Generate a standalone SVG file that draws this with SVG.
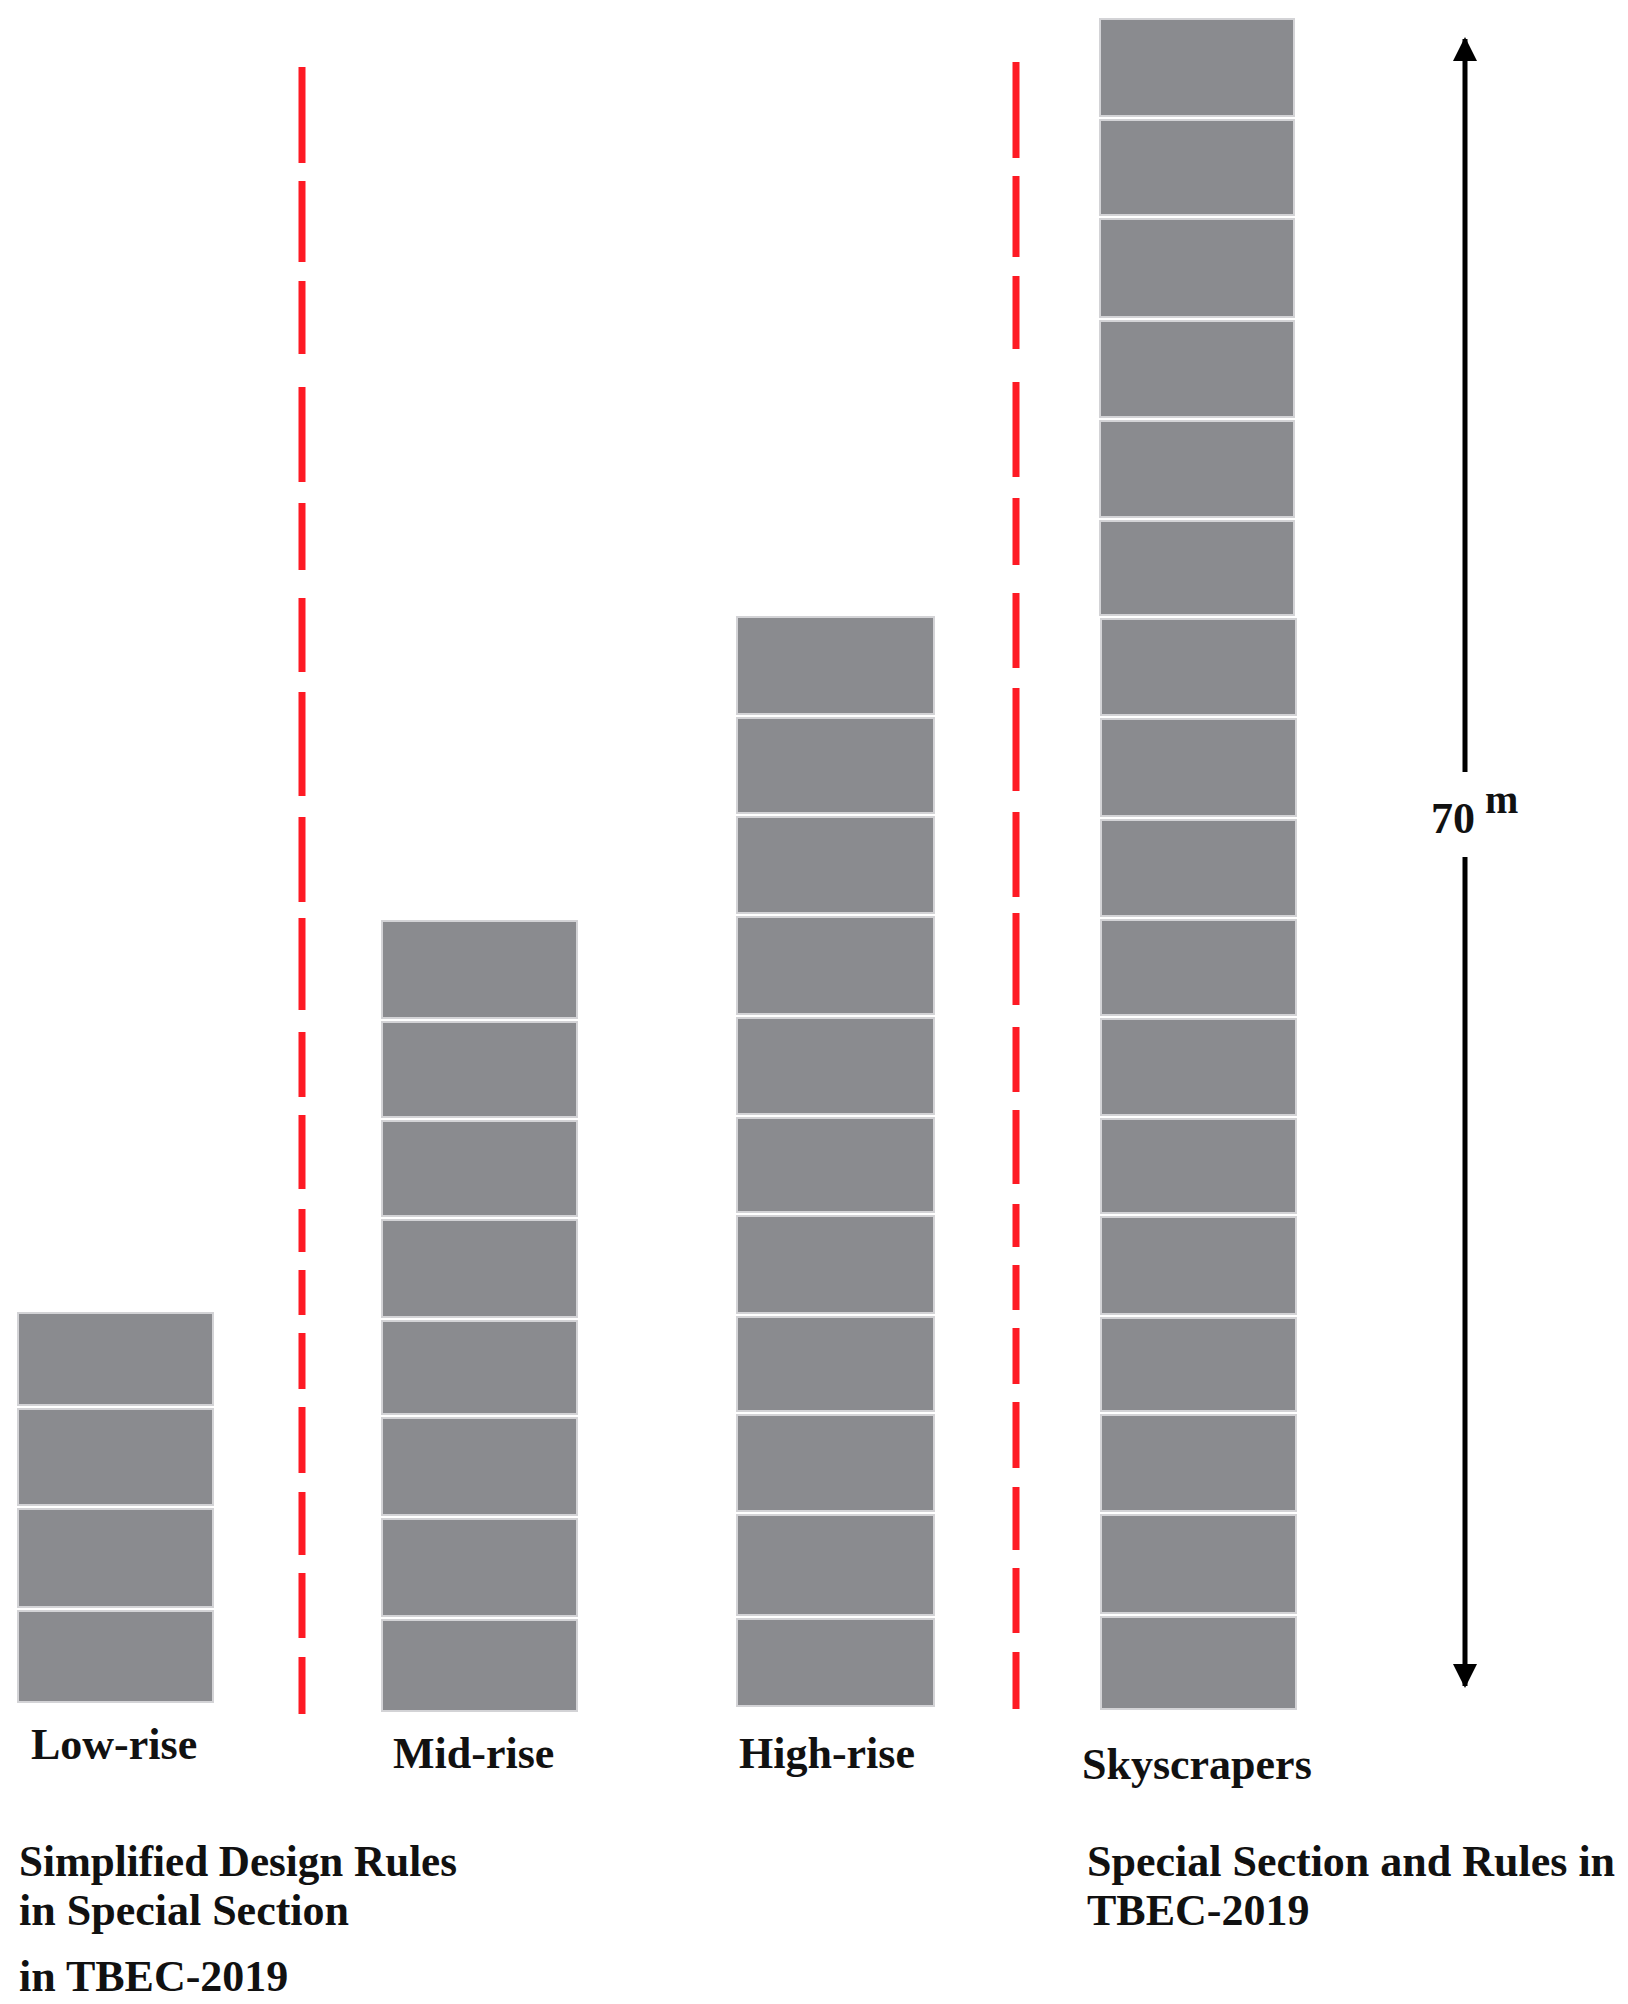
<svg xmlns="http://www.w3.org/2000/svg" width="1628" height="2004" viewBox="0 0 1628 2004">
<style>
.fl{fill:#8a8b8f;stroke:#d3d3d6;stroke-width:2}
.div{fill:none;stroke:#fe1a24;stroke-width:7}
.dim{fill:none;stroke:#000;stroke-width:5}
.t{font-family:"Liberation Serif","Times New Roman",serif;font-weight:bold;font-size:44px;fill:#111}
</style>
<defs>
<marker id="ah" markerUnits="userSpaceOnUse" markerWidth="26" markerHeight="26" viewBox="0 0 26 26" refX="22" refY="13" orient="auto">
<path d="M0,1 L24,13 L0,25 Z" fill="#000"/>
</marker>
</defs>
<rect width="1628" height="2004" fill="#fff"/>

<g id="low-rise">
<rect class="fl" x="18" y="1313" width="195" height="92"/>
<rect class="fl" x="18" y="1409" width="195" height="96"/>
<rect class="fl" x="18" y="1509" width="195" height="98"/>
<rect class="fl" x="18" y="1611" width="195" height="91"/>
<text class="t" x="31" y="1759">Low-rise</text>
</g>

<g id="mid-rise">
<rect class="fl" x="382" y="921" width="195" height="97"/>
<rect class="fl" x="382" y="1022" width="195" height="95"/>
<rect class="fl" x="382" y="1121" width="195" height="95"/>
<rect class="fl" x="382" y="1220" width="195" height="97"/>
<rect class="fl" x="382" y="1321" width="195" height="93"/>
<rect class="fl" x="382" y="1418" width="195" height="97"/>
<rect class="fl" x="382" y="1519" width="195" height="97"/>
<rect class="fl" x="382" y="1620" width="195" height="91"/>
<text class="t" x="393" y="1768">Mid-rise</text>
</g>

<g id="high-rise">
<rect class="fl" x="737" y="617" width="197" height="97"/>
<rect class="fl" x="737" y="718" width="197" height="95"/>
<rect class="fl" x="737" y="817" width="197" height="96"/>
<rect class="fl" x="737" y="917" width="197" height="97"/>
<rect class="fl" x="737" y="1018" width="197" height="96"/>
<rect class="fl" x="737" y="1118" width="197" height="94"/>
<rect class="fl" x="737" y="1216" width="197" height="97"/>
<rect class="fl" x="737" y="1317" width="197" height="94"/>
<rect class="fl" x="737" y="1415" width="197" height="96"/>
<rect class="fl" x="737" y="1515" width="197" height="100"/>
<rect class="fl" x="737" y="1619" width="197" height="87"/>
<text class="t" x="739" y="1768">High-rise</text>
</g>

<g id="skyscraper">
<rect class="fl" x="1100" y="19" width="194" height="97"/>
<rect class="fl" x="1100" y="120" width="194" height="95"/>
<rect class="fl" x="1100" y="219" width="194" height="98"/>
<rect class="fl" x="1100" y="321" width="194" height="96"/>
<rect class="fl" x="1100" y="421" width="194" height="96"/>
<rect class="fl" x="1100" y="521" width="194" height="94"/>
<rect class="fl" x="1101" y="619" width="195" height="96"/>
<rect class="fl" x="1101" y="719" width="195" height="97"/>
<rect class="fl" x="1101" y="820" width="195" height="96"/>
<rect class="fl" x="1101" y="920" width="195" height="95"/>
<rect class="fl" x="1101" y="1019" width="195" height="96"/>
<rect class="fl" x="1101" y="1119" width="195" height="94"/>
<rect class="fl" x="1101" y="1217" width="195" height="97"/>
<rect class="fl" x="1101" y="1318" width="195" height="93"/>
<rect class="fl" x="1101" y="1415" width="195" height="96"/>
<rect class="fl" x="1101" y="1515" width="195" height="98"/>
<rect class="fl" x="1101" y="1617" width="195" height="92"/>
<text class="t" x="1082" y="1779">Skyscrapers</text>
</g>

<g id="dividers">
<path class="div" d="M302,67V163 M302,181V262 M302,281V354 M302,387V482 M302,503V570 M302,598V672 M302,692V796 M302,817V902 M302,918V1010 M302,1032V1097 M302,1115V1189 M302,1209V1252 M302,1270V1315 M302,1333V1389 M302,1407V1473 M302,1492V1555 M302,1573V1638 M302,1657V1714"/>
<path class="div" d="M1016,62V158 M1016,176V257 M1016,276V349 M1016,382V477 M1016,498V565 M1016,593V668 M1016,688V791 M1016,812V897 M1016,913V1005 M1016,1027V1092 M1016,1110V1184 M1016,1204V1247 M1016,1265V1310 M1016,1328V1384 M1016,1402V1468 M1016,1487V1550 M1016,1568V1633 M1016,1652V1709"/>
</g>

<g id="connectors">
<line class="dim" x1="1465" y1="772" x2="1465" y2="39" marker-end="url(#ah)"/>
<line class="dim" x1="1465" y1="857" x2="1465" y2="1686" marker-end="url(#ah)"/>
</g>

<g id="dimension-label">
<text class="t" x="1431" y="833">70</text>
<text class="t" x="1485" y="813" style="font-size:40px">m</text>
</g>

<g id="note-left">
<text class="t" x="19" y="1876" textLength="438" lengthAdjust="spacingAndGlyphs">Simplified Design Rules</text>
<text class="t" x="19" y="1925">in Special Section</text>
<text class="t" x="19" y="1991">in TBEC-2019</text>
</g>

<g id="note-right">
<text class="t" x="1087" y="1876">Special Section and Rules in</text>
<text class="t" x="1087" y="1925">TBEC-2019</text>
</g>
</svg>
